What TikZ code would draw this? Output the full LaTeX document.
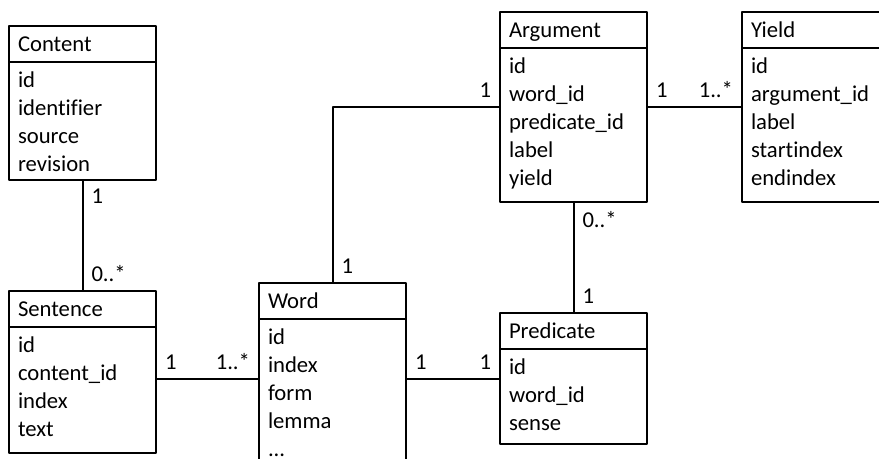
\documentclass[tikz,border=0pt]{standalone}
\usepackage{fontspec}
\setmainfont{Carlito}[Ligatures=NoCommon]
\usetikzlibrary{positioning}
\begin{document}
\begin{tikzpicture}[x=0.75pt,y=-0.75pt,line width=1.5pt,line join=round,
	font=\fontsize{17}{21}\selectfont,
	head/.style={draw,anchor=north west,outer sep=0pt,text width=96.75pt,inner xsep=6.75pt,inner ysep=0pt,align=left,text height=19.5pt,text depth=7.5pt},
	body/.style={draw,anchor=north west,outer sep=0pt,text width=96.75pt,inner xsep=6.75pt,inner ysep=0pt,align=left,text height=19pt,text depth=#1},
	mult/.style={inner sep=6pt}]
	\useasboundingbox (0,0) rectangle (879,459);
	% classes
	\node[head] (content) at (9,26) {Content};
	\node[body=69.5pt] (contentb) at (content.south west) {id\\identifier\\source\\revision};
	\node[head] (sentence) at (9,291) {Sentence};
	\node[body=75.5pt] (sentenceb) at (sentence.south west) {id\\content\_id\\index\\text};
	\node[head] (word) at (259,283) {Word};
	\node[body=131pt] (wordb) at (word.south west) {id\\index\\form\\lemma\\...};
	\node[head] (argument) at (500,12) {Argument};
	\node[body=96.5pt] (argumentb) at (argument.south west) {id\\word\_id\\predicate\_id\\label\\yield};
	\node[head] (yield) at (742,12) {Yield};
	\node[body=96.5pt] (yieldb) at (yield.south west) {id\\argument\_id\\label\\startindex\\endindex};
	\node[head] (predicate) at (500,313) {Predicate};
	\node[body=52.25pt] (predicateb) at (predicate.south west) {id\\word\_id\\sense};
	\coordinate (wrow) at ([yshift=-45pt]wordb.north west);
	\coordinate (arow) at ([yshift=-44.25pt]argumentb.north west);
	% associations
	\draw (contentb.south) -- (sentence.north) node[mult,pos=0,below right] (m1) {1} node[mult,pos=1,above right] (m2) {0..*};
	\draw (wrow -| sentenceb.east) -- (wrow) node[mult,pos=0,above right] (m3) {1} node[mult,pos=1,above left] (m4) {1..*};
	\draw (wrow -| wordb.east) -- (wrow -| predicateb.west) node[mult,pos=0,above right] (m5) {1} node[mult,pos=1,above left] (m6) {1};
	\draw (word.north) |- (arow) node[mult,pos=0,above right] (m7) {1} node[mult,pos=1,above left] (m8) {1};
	\draw (arow -| argumentb.east) -- (arow -| yieldb.west) node[mult,pos=0,above right] (m9) {1} node[mult,pos=1,above left] (m10) {1..*};
	\draw (argumentb.south) -- (predicate.north) node[mult,pos=0,below right] (m11) {0..*} node[mult,pos=1,above right] (m12) {1};
\end{tikzpicture}
\end{document}
